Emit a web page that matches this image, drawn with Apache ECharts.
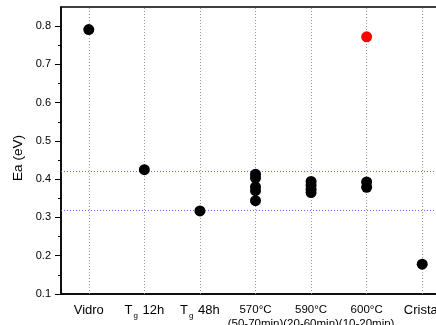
<!DOCTYPE html>
<html>
<head>
<meta charset="utf-8">
<script src="https://cdn.jsdelivr.net/npm/echarts@6/dist/echarts.min.js"></script>
<style>html,body{margin:0;padding:0;background:#fff;overflow:hidden;}#c{width:452px;height:325px;}</style>
</head>
<body>
<div id="c"></div>
<script>
// ---- data ----
const categories = ['Vidro', 'Tg 12h', 'Tg 48h', '570°C (50-70min)', '590°C (20-60min)', '600°C (10-20min)', 'Cristal'];
const blackValues = [
  [0.791],
  [0.425],
  [0.317],
  [0.413, 0.403, 0.380, 0.370, 0.344],
  [0.394, 0.384, 0.374, 0.365],
  [0.393, 0.379],
  [0.178]
];
const redValues = [[], [], [], [], [], [0.772], []];
const refLines = [0.425, 0.315];
const yTicks = [0.1, 0.2, 0.3, 0.4, 0.5, 0.6, 0.7, 0.8];
const yMinorTicks = [0.15, 0.25, 0.35, 0.45, 0.55, 0.65, 0.75];
const yMin = 0.1, yMax = 0.85;

// ---- build ----
function toPoints(vals) {
  const out = [];
  vals.forEach((arr, i) => arr.forEach(v => out.push([categories[i], v])));
  return out;
}
const FONT = '"Liberation Sans", Arial, sans-serif';

function fmtLabel(c) {
  if (c.indexOf('Tg ') === 0) return '{n|T}{sub|g}{n| ' + c.slice(3) + '}';
  const p = c.indexOf(' (');
  if (p > 0) return '{s|' + c.slice(0, p) + '}\n{s|' + c.slice(p + 1) + '}';
  return '{n|' + c + '}';
}

const chart = echarts.init(document.getElementById('c'), null, {renderer: 'canvas'});
chart.setOption({
  animation: false,
  backgroundColor: '#fff',
  grid: {left: 61, top: 7, width: 389, bottom: 31, show: true, borderColor: '#000', borderWidth: 1.5,
         containLabel: false, outerBoundsMode: 'none'},
  xAxis: [{
    type: 'category', data: categories, boundaryGap: true, position: 'bottom',
    axisLine: {lineStyle: {color: '#000', width: 1.5}},
    axisTick: {alignWithLabel: true, interval: 0, length: 6, lineStyle: {color: '#000'}},
    axisLabel: {
      interval: 0, margin: 9, color: '#000', fontFamily: FONT, formatter: fmtLabel,
      rich: {
        n: {fontSize: 13, lineHeight: 15, fontFamily: FONT, color: '#000'},
        sub: {fontSize: 8, lineHeight: 15, fontFamily: FONT, color: '#000', padding: [10, 1, 0, 1]},
        s: {fontSize: 11.5, lineHeight: 14, fontFamily: FONT, color: '#000'}
      }
    },
    splitLine: {show: false}
  }, {
    type: 'category', data: categories, boundaryGap: true, position: 'bottom', offset: 0,
    axisLine: {show: false},
    axisTick: {interval: 0, length: 3, lineStyle: {color: '#000'}},
    axisLabel: {show: false},
    splitLine: {show: false}
  }],
  yAxis: [{
    type: 'value', min: yMin, max: yMax, position: 'left',
    name: 'Ea (eV)', nameLocation: 'middle', nameGap: 36,
    nameTextStyle: {fontSize: 13.5, fontFamily: FONT, color: '#000', padding: [0, 15, 0, 0]},
    axisLine: {show: true, lineStyle: {color: '#000', width: 1.5}},
    axisTick: {show: true, length: 6, customValues: yTicks, lineStyle: {color: '#000'}},
    axisLabel: {customValues: yTicks, margin: 10, fontSize: 11, fontFamily: FONT, color: '#000', formatter: v => v.toFixed(1)},
    splitLine: {show: false}
  }, {
    type: 'value', min: yMin, max: yMax, position: 'left', offset: 0,
    axisLine: {show: false},
    axisTick: {show: true, length: 3, customValues: yMinorTicks, lineStyle: {color: '#000'}},
    axisLabel: {show: false},
    splitLine: {show: false}
  }],
  series: [{
    type: 'scatter', xAxisIndex: 0, yAxisIndex: 0, symbolSize: 11,
    itemStyle: {color: '#000', opacity: 1}, z: 5,
    data: toPoints(blackValues),
    markLine: {
      silent: true, symbol: 'none', label: {show: false},
      data: categories.map(c => ({xAxis: c, lineStyle: {color: '#999', width: 1, type: [1, 2]}}))
        .concat(refLines.map(v => ({yAxis: v, lineStyle: {color: '#6666ee', width: 1, type: [1, 2]}})))
    }
  }, {
    type: 'scatter', xAxisIndex: 0, yAxisIndex: 0, symbolSize: 11,
    itemStyle: {color: '#ff0000', opacity: 1}, z: 5,
    data: toPoints(redValues)
  }]
});
</script>
</body>
</html>
